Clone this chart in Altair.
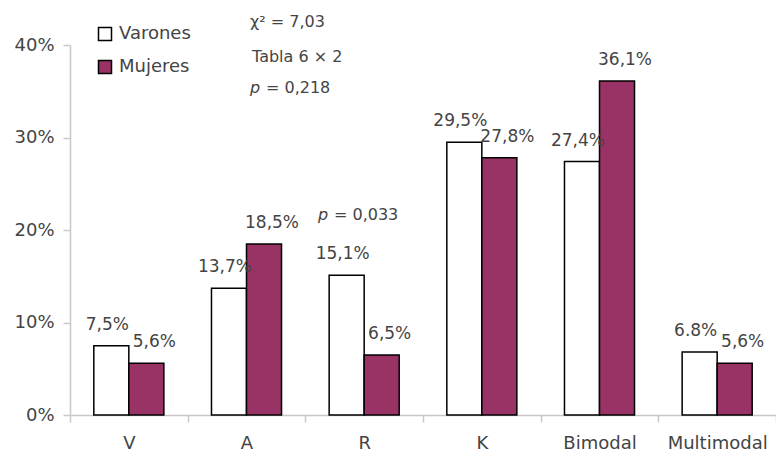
import altair as alt
import pandas as pd

# Distribution by category and sex (percent)
categorias = ["V", "A", "R", "K", "Bimodal", "Multimodal"]
sexos = ["Varones", "Mujeres"]
varones = [7.5, 13.7, 15.1, 29.5, 27.4, 6.8]
mujeres = [5.6, 18.5, 6.5, 27.8, 36.1, 5.6]
etiquetas_varones = ["7,5%", "13,7%", "15,1%", "29,5%", "27,4%", "6.8%"]
etiquetas_mujeres = ["5,6%", "18,5%", "6,5%", "27,8%", "36,1%", "5,6%"]
colores = ["#ffffff", "#993366"]

filas = []
for cat, v, lv in zip(categorias, varones, etiquetas_varones):
    filas.append({"categoria": cat, "sexo": "Varones", "valor": v, "etiqueta": lv})
for cat, m, lm in zip(categorias, mujeres, etiquetas_mujeres):
    filas.append({"categoria": cat, "sexo": "Mujeres", "valor": m, "etiqueta": lm})
df = pd.DataFrame(filas)

FUENTE = "DejaVu Sans"
GRIS = "#444444"
LINEA = "#c8c8c8"

x = alt.X(
    "categoria:N",
    sort=categorias,
    scale=alt.Scale(paddingInner=0, paddingOuter=0),
    axis=alt.Axis(
        title=None, labelAngle=0, tickBand="extent", domainColor=LINEA,
        domainWidth=1.5, tickColor=LINEA, tickWidth=1.5, tickSize=7,
        labelPadding=12, labelFontSize=18,
    ),
)
x_off = alt.XOffset("sexo:N", sort=sexos, scale=alt.Scale(paddingInner=0, paddingOuter=0.68))
y = alt.Y(
    "valor:Q",
    scale=alt.Scale(domain=[0, 40]),
    axis=alt.Axis(
        title=None, values=[0, 10, 20, 30, 40], labelExpr="datum.value + '%'",
        grid=False, domainColor=LINEA, domainWidth=1.5, tickColor=LINEA,
        tickWidth=1.5, tickSize=7, labelPadding=9, labelFontSize=18,
    ),
)

barras = alt.Chart(df).mark_bar(stroke="black", strokeWidth=1.5).encode(
    x=x,
    xOffset=x_off,
    y=y,
    color=alt.Color(
        "sexo:N",
        sort=sexos,
        scale=alt.Scale(domain=sexos, range=colores),
        legend=alt.Legend(
            title=None, orient="none", legendX=26, legendY=-20,
            symbolType="square", symbolSize=169, symbolStrokeColor="black",
            symbolStrokeWidth=1.5, symbolOpacity=1, labelFontSize=18,
            labelOffset=5, rowPadding=13, labelColor=GRIS, labelFont=FUENTE,
        ),
    ),
)

# Value labels above each bar; men's labels lean left, women's lean right
etq_var = alt.Chart(df).transform_filter(alt.datum.sexo == "Varones").mark_text(
    dy=-21, dx=-4, fontSize=17, color=GRIS, font=FUENTE
).encode(x=x, xOffset=x_off, y=y, text="etiqueta:N")
etq_muj = alt.Chart(df).transform_filter(alt.datum.sexo == "Mujeres").mark_text(
    dy=-21, dx=8, fontSize=17, color=GRIS, font=FUENTE
).encode(x=x, xOffset=x_off, y=y, text="etiqueta:N")

# Statistical annotations
notas = pd.DataFrame({
    "texto": ["\u03c7\u00b2 = 7,03", "Tabla 6 \u00d7 2", "= 0,218", "= 0,033"],
    "px": [180, 182, 196, 264],
    "py": [-23, 12, 43, 170],
})
anot = alt.Chart(notas).mark_text(
    align="left", baseline="middle", fontSize=16, color=GRIS, font=FUENTE
).encode(x=alt.X("px:Q", scale=None), y=alt.Y("py:Q", scale=None), text="texto:N")

cursivas = pd.DataFrame({"texto": ["p", "p"], "px": [180, 248], "py": [43, 170]})
anot_p = alt.Chart(cursivas).mark_text(
    align="left", baseline="middle", fontSize=16, fontStyle="italic",
    color=GRIS, font=FUENTE
).encode(x=alt.X("px:Q", scale=None), y=alt.Y("py:Q", scale=None), text="texto:N")

chart = alt.layer(barras, etq_var, etq_muj, anot, anot_p).properties(
    width=706, height=370,
    padding={"left": 70, "top": 45, "right": 0, "bottom": 37},
    autosize="none",
).configure_view(stroke=None).configure_axis(
    labelFont=FUENTE, labelColor=GRIS
).configure_legend(labelFont=FUENTE)

chart.save("out.html", embed_options={"renderer": "svg", "actions": False})
